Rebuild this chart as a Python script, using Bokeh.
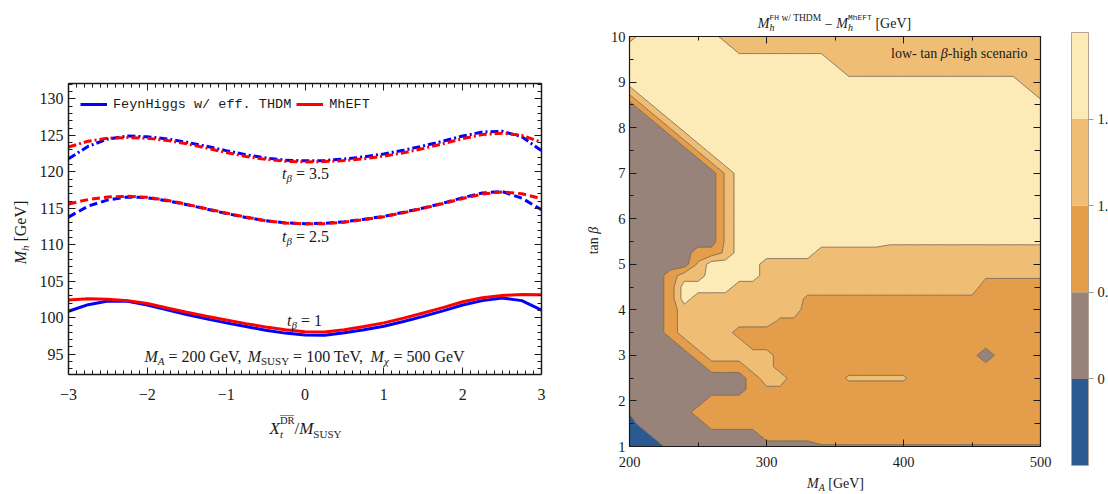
import math
import numpy as np
from bokeh.plotting import figure
from bokeh.models import (Range1d, LinearAxis, SingleIntervalTicker, FixedTicker,
                          Label, Legend, LegendItem)
from bokeh.layouts import row
from bokeh.embed import file_html
from bokeh.resources import INLINE

SERIF = "Liberation Serif"
MONO = "Liberation Mono"
INK = "#1a1a1a"

# ---------------- left panel: M_h versus X_t/M_SUSY ----------------
xt_over_msusy = [-3.0, -2.75, -2.5, -2.25, -2.0, -1.75, -1.5, -1.25, -1.0, -0.75, -0.5, -0.25,
                 0.0, 0.25, 0.5, 0.75, 1.0, 1.25, 1.5, 1.75, 2.0, 2.25, 2.5, 2.75, 3.0]
fh_tb1 = [100.9, 101.8, 102.3, 102.25, 101.75, 101.1, 100.45, 99.85, 99.3, 98.8, 98.3, 97.9,
          97.65, 97.6, 97.95, 98.35, 98.85, 99.5, 100.2, 100.95, 101.75, 102.35, 102.7, 102.35, 101.05]
eft_tb1 = [102.45, 102.6, 102.55, 102.35, 101.95, 101.35, 100.75, 100.2, 99.7, 99.2, 98.75, 98.35,
           98.1, 98.05, 98.35, 98.8, 99.3, 99.95, 100.65, 101.4, 102.2, 102.75, 103.05, 103.2, 103.15]
fh_tb25 = [113.8, 115.3, 116.15, 116.55, 116.45, 116.05, 115.5, 114.9, 114.3, 113.75, 113.3, 113.0,
           112.9, 112.95, 113.15, 113.5, 113.9, 114.45, 115.05, 115.7, 116.45, 117.1, 117.3, 116.4, 114.8]
eft_tb25 = [115.6, 116.2, 116.55, 116.65, 116.5, 116.1, 115.55, 114.95, 114.35, 113.8, 113.3, 113.0,
            112.85, 112.9, 113.1, 113.45, 113.85, 114.4, 115.0, 115.65, 116.35, 116.95, 117.25, 117.0, 116.3]
fh_tb35 = [121.8, 123.5, 124.5, 124.9, 124.8, 124.5, 124.05, 123.5, 122.9, 122.35, 121.9, 121.6,
           121.5, 121.55, 121.75, 122.05, 122.45, 122.95, 123.55, 124.2, 124.9, 125.45, 125.55, 124.8, 122.9]
eft_tb35 = [123.4, 124.2, 124.6, 124.7, 124.6, 124.3, 123.85, 123.25, 122.65, 122.1, 121.7, 121.45,
            121.35, 121.4, 121.55, 121.8, 122.15, 122.6, 123.2, 123.85, 124.55, 125.1, 125.3, 125.0, 124.05]
legend_labels = ["FeynHiggs w/ eff. THDM", "MhEFT"]
x_tick_labels = {-3: "\u22123", -2: "\u22122", -1: "\u22121", 0: "0", 1: "1", 2: "2", 3: "3"}

# ---------------- right panel: Delta M_h over (M_A, tan beta) ----------------
ma_values = [200, 210, 220, 230, 240, 250, 260, 270, 280, 290, 300, 310, 320, 330, 340, 350,
             360, 370, 380, 390, 400, 410, 420, 430, 440, 450, 460, 470, 480, 490, 500]
tanb_values = [10.0, 9.75, 9.5, 9.25, 9.0, 8.75, 8.5, 8.25, 8.0, 7.75, 7.5, 7.25, 7.0, 6.75, 6.5,
               6.25, 6.0, 5.75, 5.5, 5.25, 5.0, 4.75, 4.5, 4.25, 4.0, 3.75, 3.5, 3.25, 3.0, 2.75,
               2.5, 2.25, 2.0, 1.75, 1.5, 1.25, 1.0]
# read-off value of Delta M_h [GeV] per grid point (code letters, see dmh_code)
dmh_code = {"0": -0.25, "z": 0.05, "1": 0.25, "a": 0.45, "2": 0.75, "d": 0.9,
            "b": 1.08, "3": 1.25, "p": 1.6, "4": 1.75}
dmh_rows = [
    "3" + "4" * 6 + "3" * 24,                       # tan b = 10
    "4" * 8 + "3" * 23,                             # 9.75
    "4" * 15 + "3" * 16,                            # 9.5
    "4" * 16 + "3" * 15,                            # 9.25
    "4" * 29 + "3" * 2,                             # 9.0
    "b" + "4" * 29 + "3",                           # 8.75
    "1" + "b" + "4" * 29,                           # 8.5
    "1" * 2 + "b" + "4" * 28,                       # 8.25
    "1" * 3 + "b" + "4" * 27,                       # 8.0
    "1" * 4 + "b" + "4" * 26,                       # 7.75
    "1" * 5 + "b" + "4" * 25,                       # 7.5
    "1" * 6 + "b" + "4" * 24,                       # 7.25
    "1" * 7 + "b" + "4" * 23,                       # 7.0
    "1" * 7 + "b" + "4" * 23,                       # 6.75
    "1" * 7 + "b" + "4" * 23,                       # 6.5
    "1" * 7 + "b" + "4" * 23,                       # 6.25
    "1" * 7 + "b" + "4" * 23,                       # 6.0
    "1" * 7 + "b" + "4" * 23,                       # 5.75
    "1" * 7 + "b" + "4" * 11 + "p" * 12,            # 5.5
    "1" * 5 + "2" * 2 + "b" + "4" * 6 + "3" * 17,   # 5.25
    "1" * 5 + "b" + "4" * 4 + "3" * 21,             # 5.0
    "1" * 3 + "2" + "3" * 2 + "4" * 4 + "3" * 16 + "b" * 5,   # 4.75
    "1" * 3 + "2" + "4" * 4 + "3" * 18 + "2" * 5,         # 4.5
    "1" * 3 + "2" + "4" + "3" * 8 + "d" * 13 + "2" * 5,   # 4.25
    "1" * 3 + "2" + "3" * 9 + "2" * 18,                   # 4.0
    "1" * 3 + "2" + "3" * 7 + "d" * 2 + "2" * 18,         # 3.75
    "1" * 3 + "2" + "3" * 4 + "2" * 23,                   # 3.5
    "1" * 4 + "2" + "3" * 4 + "2" * 22,                   # 3.25
    "1" * 5 + "2" + "3" * 5 + "2" * 15 + "z" + "2" * 4,   # 3.0
    "1" * 6 + "2" * 3 + "3" * 2 + "2" * 20,               # 2.75
    "1" * 9 + "2" + "3" * 2 + "2" * 4 + "b" * 5 + "2" * 10,   # 2.5
    "1" * 9 + "2" + "d" * 2 + "2" * 19,                   # 2.25
    "1" * 6 + "2" * 25,                                   # 2.0
    "z" + "1" * 4 + "2" * 26,                             # 1.75
    "0" + "1" * 5 + "2" * 25,                             # 1.5
    "0" * 2 + "1" * 8 + "2" * 21,                         # 1.25
    "0" * 3 + "1" * 11 + "a" * 17,                        # 1.0
]
dmh_levels = [-0.5, 0.0, 0.5, 1.0, 1.5, 2.0]
dmh_palette = ["#2b5a93", "#978379", "#e49d4a", "#f0bd74", "#fdebb7"]
cbar_ticks = [0.0, 0.5, 1.0, 1.5]
cbar_tick_labels = {0: "0", 0.5: "0.5", 1: "1.0", 1.5: "1.5"}

# ---------------- text helpers ----------------
W_UP = {" ": .25, "=": .564, ".": .25, ",": .25, "/": .278, "[": .333, "]": .333, "-": .333,
        "\u2212": .564, "A": .722, "D": .722, "E": .611, "F": .556, "G": .722, "H": .722,
        "M": .889, "R": .667, "S": .556, "T": .611, "U": .722, "V": .722, "X": .722, "Y": .722,
        "a": .444, "c": .444, "e": .444, "g": .5, "h": .5, "i": .278, "l": .278, "n": .5,
        "o": .5, "r": .333, "s": .389, "t": .278, "w": .722, "\u03b2": .5, "\u03c7": .55,
        "\u2014": 1.0}
W_IT = {"M": .833, "A": .611, "X": .611, "t": .278, "h": .5, "\u03b2": .5, "\u03c7": .5}


def est_width(text, size, style, font):
    if font == MONO:
        return 0.6 * size * len(text)
    tot = 0.0
    for ch in text:
        if style == "italic" and ch in W_IT:
            tot += W_IT[ch]
        else:
            tot += W_UP.get(ch, 0.5)
    return tot * size


def rich(p, fx, fy, px, py, pieces, anchor="center", rotate=False, color=INK):
    widths = [est_width(t, s, st, f) for (t, s, st, f, sh, adv) in pieces]
    total = sum(w for w, pc in zip(widths, pieces) if pc[5])
    cur = -total / 2 if anchor == "center" else (-total if anchor == "right" else 0.0)
    for (t, s, st, f, sh, adv), w in zip(pieces, widths):
        lead = (len(t) - len(t.lstrip(" "))) * (0.6 if f == MONO else 0.25) * s
        kw = dict(text=t.strip(" "), text_font=f, text_font_size=f"{s}px", text_font_style=st,
                  text_align="left", text_baseline="middle", text_color=color)
        if rotate:
            lab = Label(x=fx(px + sh), y=fy(py - cur - lead), angle=math.pi / 2, **kw)
        else:
            lab = Label(x=fx(px + cur + lead), y=fy(py + sh), **kw)
        p.add_layout(lab)
        if adv:
            cur += w


def style_axis(ax, size, show_labels=True, tin=7, tmin=4, standoff=5):
    ax.axis_line_color = INK
    ax.axis_line_width = 1.5
    ax.major_tick_in = tin
    ax.major_tick_out = 0
    ax.minor_tick_in = tmin
    ax.minor_tick_out = 0
    ax.major_tick_line_color = INK
    ax.minor_tick_line_color = INK
    ax.major_tick_line_width = 1
    ax.minor_tick_line_width = 1
    ax.major_label_text_font = SERIF
    ax.major_label_standoff = standoff
    ax.major_label_text_font_size = f"{size}px"
    ax.major_label_text_color = INK if show_labels else None


def box_axes(p, xlo, xhi, ylo, yhi, xticker, yticker, size, xstand, ystand, tmin_r=4):
    """Four axes pinned to the data box (x: xlo..xhi, y: ylo..yhi)."""
    p.xaxis.ticker = xticker()
    p.yaxis.ticker = yticker()
    p.xaxis.fixed_location = ylo
    p.xaxis.bounds = (xlo, xhi)
    p.yaxis.fixed_location = xlo
    p.yaxis.bounds = (ylo, yhi)
    style_axis(p.xaxis[0], size, standoff=xstand)
    style_axis(p.yaxis[0], size, standoff=ystand)
    top = LinearAxis(ticker=xticker(), fixed_location=yhi, bounds=(xlo, xhi))
    right = LinearAxis(ticker=yticker(), fixed_location=xhi, bounds=(ylo, yhi))
    style_axis(top, size, show_labels=False)
    style_axis(right, size, show_labels=False, tmin=tmin_r)
    p.add_layout(top, "above")
    p.add_layout(right, "right")


# ---------------- left figure (canvas x 0..585) ----------------
X1_LO, X1_HI = -3.0, 3.0
Y1_LO, Y1_HI = 92.23, 132.1
PX1 = 473 / (X1_HI - X1_LO)
PY1 = 291 / (Y1_HI - Y1_LO)
p1 = figure(frame_width=585, frame_height=494, min_border=0,
            x_range=Range1d(X1_LO - 68 / PX1, X1_HI + 44 / PX1),
            y_range=Range1d(Y1_LO - 120 / PY1, Y1_HI + 83 / PY1),
            output_backend="svg", toolbar_location=None)
p1.grid.visible = False
p1.outline_line_color = None
box_axes(p1, X1_LO, X1_HI, Y1_LO, Y1_HI,
         lambda: SingleIntervalTicker(interval=1, num_minor_ticks=10),
         lambda: SingleIntervalTicker(interval=5, num_minor_ticks=5), 16, 14, 5)
p1.xaxis[0].major_label_overrides = x_tick_labels

BLUE, RED = "#0000ff", "#ff0000"
r_fh = p1.line(xt_over_msusy, fh_tb1, line_color=BLUE, line_width=3)
r_eft = p1.line(xt_over_msusy, eft_tb1, line_color=RED, line_width=3)
p1.line(xt_over_msusy, fh_tb25, line_color=BLUE, line_width=3, line_dash="8 4")
p1.line(xt_over_msusy, eft_tb25, line_color=RED, line_width=3, line_dash="8 4")
p1.line(xt_over_msusy, fh_tb35, line_color=BLUE, line_width=3, line_dash="8 3 2 3")
p1.line(xt_over_msusy, eft_tb35, line_color=RED, line_width=3, line_dash="8 3 2 3")

legend = Legend(items=[LegendItem(label=legend_labels[0], renderers=[r_fh]),
                       LegendItem(label=legend_labels[1], renderers=[r_eft])],
                orientation="horizontal", location=(74, 376), padding=6,
                spacing=5, glyph_width=27, glyph_height=16, label_standoff=6,
                label_text_font=MONO, label_text_font_size="13.5px", label_text_color=INK,
                border_line_alpha=0, background_fill_alpha=0)
p1.add_layout(legend)


def fx1(px):
    return X1_LO + (px - 68) / PX1


def fy1(py):
    return Y1_HI - (py - 83) / PY1


for tb, py in [("3.5", 173), ("2.5", 236)]:
    rich(p1, fx1, fy1, 305, py, [("t", 16, "italic", SERIF, 0, True),
                                 ("\u03b2", 11, "italic", SERIF, 4, True),
                                 (" = " + tb, 16, "normal", SERIF, 0, True)])
rich(p1, fx1, fy1, 304, 320, [("t", 16, "italic", SERIF, 0, True),
                              ("\u03b2", 11, "italic", SERIF, 4, True),
                              (" = 1", 16, "normal", SERIF, 0, True)])
rich(p1, fx1, fy1, 304, 356, [
    ("M", 16, "italic", SERIF, 0, True), ("A", 11, "italic", SERIF, 4, True),
    (" = 200 GeV, ", 16, "normal", SERIF, 0, True),
    ("M", 16, "italic", SERIF, 0, True), ("SUSY", 11, "normal", SERIF, 4, True),
    (" = 100 TeV, ", 16, "normal", SERIF, 0, True),
    ("M", 16, "italic", SERIF, 0, True), ("\u03c7", 11, "italic", SERIF, 4, True),
    (" = 500 GeV", 16, "normal", SERIF, 0, True)])
rich(p1, fx1, fy1, 305, 428, [
    ("X", 17, "italic", SERIF, 0, True), ("t", 11, "italic", SERIF, 5, False),
    ("\u2014", 14, "normal", SERIF, -14, False),
    ("DR", 10.5, "normal", SERIF, -8, True),
    ("/", 17, "normal", SERIF, 0, True), ("M", 17, "italic", SERIF, 0, True),
    ("SUSY", 11, "normal", SERIF, 5, True)])
rich(p1, fx1, fy1, 20, 232, [
    ("M", 16, "italic", SERIF, 0, True), ("h", 11, "italic", SERIF, 4, True),
    (" [GeV]", 16, "normal", SERIF, 0, True)], rotate=True)

# ---------------- right figure: contours (canvas x 585..1055) ----------------
X2_LO, X2_HI, Y2_LO, Y2_HI = 200.0, 500.0, 1.0, 10.0
PX2 = 411 / (X2_HI - X2_LO)
PY2 = 410 / (Y2_HI - Y2_LO)
p2 = figure(frame_width=470, frame_height=494, min_border=0,
            x_range=Range1d(X2_LO - 44 / PX2, X2_HI + 15 / PX2),
            y_range=Range1d(Y2_LO - 48 / PY2, Y2_HI + 36 / PY2),
            output_backend="svg", toolbar_location=None)
p2.grid.visible = False
p2.outline_line_color = None

dmh_grid = np.array([[dmh_code[c] for c in r] for r in dmh_rows][::-1])
p2.contour(x=np.array(ma_values, dtype=float), y=np.array(tanb_values[::-1], dtype=float),
           z=dmh_grid, levels=dmh_levels, fill_color=dmh_palette,
           line_color="#6d5b47", line_width=0.9, line_alpha=0.85)

box_axes(p2, X2_LO, X2_HI, Y2_LO, Y2_HI,
         lambda: SingleIntervalTicker(interval=100, num_minor_ticks=2),
         lambda: SingleIntervalTicker(interval=1, num_minor_ticks=2), 14.5, 10, 4, tmin_r=6)
for ax in p2.axis:
    ax.axis_line_width = 1.2


def fx2(px):
    return X2_LO + (px - 629) / PX2


def fy2(py):
    return Y2_HI - (py - 36) / PY2


rich(p2, fx2, fy2, 834, 23, [
    ("M", 14, "italic", SERIF, 0, True), ("h", 10, "italic", SERIF, 4, False),
    ("FH", 8, "normal", MONO, -6, True), (" w/ THDM", 9.5, "normal", SERIF, -6, True),
    (" \u2212 ", 14, "normal", SERIF, 0, True),
    ("M", 14, "italic", SERIF, 0, True), ("h", 10, "italic", SERIF, 4, False),
    ("MhEFT", 8, "normal", MONO, -6, True),
    (" [GeV]", 14, "normal", SERIF, 0, True)])
rich(p2, fx2, fy2, 1027, 53, [
    ("low- tan ", 14, "normal", SERIF, 0, True), ("\u03b2", 14, "italic", SERIF, 0, True),
    ("-high scenario", 14, "normal", SERIF, 0, True)], anchor="right")
rich(p2, fx2, fy2, 835, 483, [
    ("M", 14, "italic", SERIF, 0, True), ("A", 10, "italic", SERIF, 4, True),
    (" [GeV]", 14, "normal", SERIF, 0, True)])
rich(p2, fx2, fy2, 593, 240, [
    ("tan ", 14, "normal", SERIF, 0, True), ("\u03b2", 14, "italic", SERIF, 0, True)],
    rotate=True)

# ---------------- colour bar (canvas x 1055..1108) ----------------
PY3 = 433 / (dmh_levels[-1] - dmh_levels[0])
p3 = figure(frame_width=53, frame_height=494, min_border=0,
            x_range=Range1d(-16 / 17, 1 + 20 / 17),
            y_range=Range1d(dmh_levels[0] - 29 / PY3, dmh_levels[-1] + 32 / PY3),
            x_axis_location=None, y_axis_location=None,
            output_backend="svg", toolbar_location=None)
p3.grid.visible = False
p3.outline_line_color = None
p3.quad(left=0, right=1, bottom=dmh_levels[:-1], top=dmh_levels[1:],
        fill_color=dmh_palette, line_color=None)
p3.quad(left=0, right=1, bottom=dmh_levels[0], top=dmh_levels[-1],
        fill_color=None, line_color="#b3a58f", line_width=1)
cb_axis = LinearAxis(ticker=FixedTicker(ticks=cbar_ticks, minor_ticks=[]),
                     fixed_location=1, bounds=(dmh_levels[0], dmh_levels[-1]))
cb_axis.axis_line_color = None
cb_axis.major_tick_in = 0
cb_axis.major_tick_out = 5
cb_axis.minor_tick_out = 0
cb_axis.major_tick_line_color = "#9a9a9a"
cb_axis.major_label_overrides = cbar_tick_labels
cb_axis.major_label_text_font = SERIF
cb_axis.major_label_text_font_size = "14.5px"
cb_axis.major_label_text_color = INK
cb_axis.major_label_standoff = 4
p3.add_layout(cb_axis, "right")

layout = row(p1, p2, p3)
open("out.html", "w").write(file_html(layout, INLINE))
